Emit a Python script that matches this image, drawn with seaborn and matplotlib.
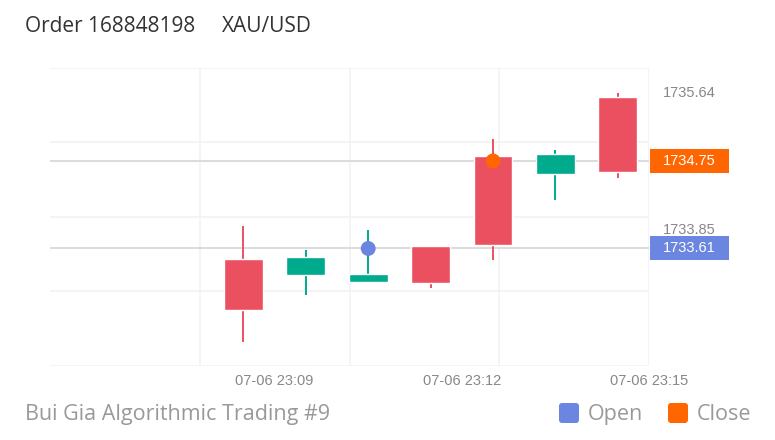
import numpy as np
import pandas as pd
import matplotlib.pyplot as plt
from matplotlib.patches import FancyBboxPatch, Rectangle
import matplotlib.transforms as mtransforms
import seaborn as sns

# one-minute candles, red = rising, green = falling
opens = [1732.81, 1733.50, 1733.28, 1733.16, 1733.65, 1734.84, 1734.61]
highs = [1733.90, 1733.59, 1733.85, 1733.64, 1735.04, 1734.89, 1735.64]
lows = [1732.39, 1733.00, 1733.17, 1733.09, 1733.46, 1734.24, 1734.53]
closes = [1733.47, 1733.27, 1733.17, 1733.64, 1734.82, 1734.58, 1735.58]

tick_pos = [0.5, 3.5, 6.5]
tick_labels = ["07-06 23:09", "07-06 23:12", "07-06 23:15"]

axis_labels = [1735.64, 1733.85]
order_open = 1733.61
order_close = 1734.75
open_idx = 2
close_idx = 4

UP = "#eb5061"
DOWN = "#00aa8c"
BLUE = "#6a86e0"
ORANGE = "#ff6600"

sns.set_theme(style="white")
plt.rcParams["font.family"] = ["Liberation Sans", "DejaVu Sans"]
ui_font = ["Open Sans", "DejaVu Sans"]

fig = plt.figure(figsize=(7.75, 4.4), dpi=100)
ax = fig.add_axes([50 / 775, 74 / 440, 599 / 775, 298 / 440])

ymin, ymax = 1732.08, 1735.96
ax.set_xlim(-3.1, 6.5)
ax.set_ylim(ymin, ymax)
px_y = (ymax - ymin) / 298

# faint grid
for y in np.linspace(ymin, ymax, 5):
    ax.axhline(y, color="#f2f2f2", lw=1.2, zorder=0)
for x in [-0.7, 1.7, 4.1, 6.5]:
    ax.axvline(x, color="#f2f2f2", lw=1.2, zorder=0)

# order levels
ax.axhline(order_close, color="#dcdcdc", lw=1.5, zorder=1)
ax.axhline(order_open, color="#dcdcdc", lw=1.5, zorder=1)

idx = np.arange(len(opens))
colors = [UP if c >= o else DOWN for o, c in zip(opens, closes)]
ax.vlines(idx, lows, highs, colors=colors, lw=1.4, zorder=2)
body_lo = np.minimum(opens, closes)
body_h = np.abs(np.array(closes) - np.array(opens))
ax.bar(idx, body_h, bottom=body_lo, width=0.62, color=colors, zorder=3)

marks = pd.DataFrame({"x": [open_idx, close_idx],
                      "price": [order_open, order_close],
                      "kind": ["Open", "Close"]})
sns.scatterplot(data=marks, x="x", y="price", hue="kind",
                palette={"Open": BLUE, "Close": ORANGE}, s=115,
                linewidth=0, legend=False, zorder=4, ax=ax)

for s in ax.spines.values():
    s.set_visible(False)
ax.set_xlabel("")
ax.set_ylabel("")
ax.set_yticks([])
ax.set_xticks(tick_pos, tick_labels)
ax.tick_params(axis="x", length=0, pad=6, labelsize=10.5, labelcolor="#888888")

# right side price labels
tr = mtransforms.blended_transform_factory(ax.transAxes, ax.transData)
for v in axis_labels:
    ax.text(1.0 + 14 / 599, v, f"{v:.2f}", transform=tr, ha="left",
            va="center", fontsize=10.5, color="#888888", clip_on=False)
for v, col in [(order_close, ORANGE), (order_open, BLUE)]:
    ax.add_patch(Rectangle((1.0 + 1 / 599, v - 12 * px_y), 79 / 599, 24 * px_y,
                           transform=tr, fc=col, ec="none", clip_on=False))
    ax.text(1.0 + 40 / 599, v, f"{v:.2f}", transform=tr, ha="center",
            va="center", fontsize=10.5, color="white", clip_on=False)

fig.text(25 / 775, 1 - 26 / 440, "Order 168848198", fontsize=15,
         color="#333333", va="center", family=ui_font)
fig.text(222 / 775, 1 - 26 / 440, "XAU/USD", fontsize=15,
         color="#333333", va="center", family=ui_font)
fig.text(25 / 775, 1 - 414 / 440, "Bui Gia Algorithmic Trading #9",
         fontsize=15.5, color="#999999", va="center", family=ui_font)

# legend swatches
for x0, col, lab in [(559, BLUE, "Open"), (668, ORANGE, "Close")]:
    fig.add_artist(FancyBboxPatch((x0, 17), 20, 20,
                                  boxstyle="round,pad=0,rounding_size=3",
                                  fc=col, ec="none", transform=None))
    fig.text((x0 + 29) / 775, 1 - 414 / 440, lab, fontsize=15.5,
             color="#999999", va="center", family=ui_font)

fig.savefig("out.png", dpi=100)
